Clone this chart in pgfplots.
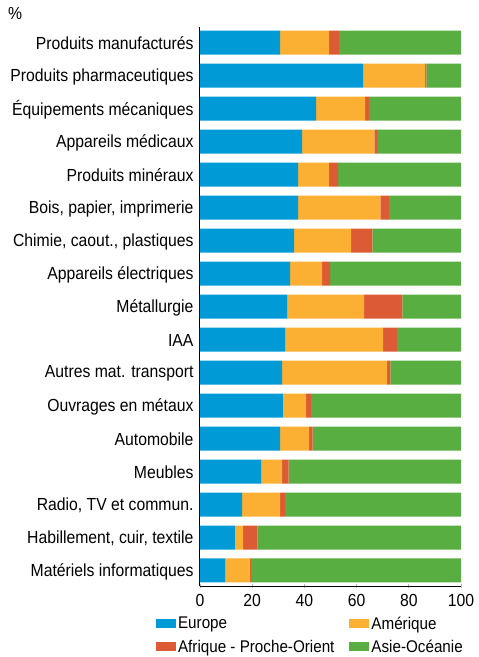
\documentclass[border=0pt]{standalone}
\usepackage{fontspec}
\setmainfont{Liberation Sans}[FakeStretch=0.9]
\usepackage{pgfplots}
\pgfplotsset{compat=1.18}
\definecolor{cEur}{RGB}{0,154,215}
\definecolor{cAme}{RGB}{251,176,52}
\definecolor{cAfr}{RGB}{220,91,53}
\definecolor{cAsi}{RGB}{88,174,64}
\newcommand{\fsz}{\fontsize{17.5}{20}\selectfont}
\newcommand{\lsz}{\fontsize{16.9}{19}\selectfont}
\begin{document}
\begin{tikzpicture}
\begin{axis}[
  scale only axis,
  width=261pt, height=559pt,
  xbar stacked,
  bar width=24pt,
  xmin=0, xmax=100,
  ymin=-0.47, ymax=16.47,
  y dir=reverse,
  axis x line=bottom, axis y line=left,
  axis line style={-, black, line width=1pt},
  xtick={0,20,40,60,80,100},
  ytick={0,...,16},
  yticklabels={Produits manufacturés,Produits pharmaceutiques,Équipements mécaniques,Appareils médicaux,Produits minéraux,{Bois, papier, imprimerie},{Chimie, caout., plastiques},Appareils électriques,Métallurgie,IAA,Autres mat. transport,Ouvrages en métaux,Automobile,Meubles,{Radio, TV et commun.},{Habillement, cuir, textile},Matériels informatiques},
  y tick style={draw=none},
  x tick style={gray!60, line width=0.8pt},
  major tick length=4pt,
  tick label style={font=\fsz},
  /pgf/number format/assume math mode=true,
  xticklabel style={yshift=-2.5pt},
  yticklabel style={xshift=-1pt, yshift=-1pt},
  legend columns=2,
  legend cell align=left,
  legend style={draw=none, fill=none, font=\lsz,
    at={(axis description cs:-0.169,-0.051)}, anchor=north west,
    /tikz/every even column/.append style={column sep=13pt},
    row sep=5pt, inner sep=0pt},
  legend image code/.code={\fill[#1, draw=none] (0pt,-4pt) rectangle (20pt,5pt);},
]
\addplot[fill=cEur, draw=none] coordinates {(30.7,0) (62.5,1) (44.5,2) (39.1,3) (37.6,4) (37.6,5) (36.1,6) (34.5,7) (33.4,8) (32.6,9) (31.5,10) (31.8,11) (30.7,12) (23.4,13) (16.1,14) (13.4,15) (9.6,16)};
\addplot[fill=cAme, draw=none] coordinates {(18.8,0) (23.8,1) (18.8,2) (27.7,3) (11.9,4) (31.5,5) (21.8,6) (12.3,7) (29.5,8) (37.6,9) (40.2,10) (8.9,11) (11.1,12) (8.1,13) (14.6,14) (3.1,15) (9.6,16)};
\addplot[fill=cAfr, draw=none] coordinates {(3.7,0) (0.4,1) (1.4,2) (1.1,3) (3.4,4) (3.3,5) (8.1,6) (3.1,7) (14.6,8) (5.2,9) (1.2,10) (1.8,11) (1.4,12) (2.5,13) (1.8,14) (5.6,15) (0.4,16)};
\addplot[fill=cAsi, draw=none] coordinates {(46.8,0) (13.3,1) (35.3,2) (32.1,3) (47.1,4) (27.6,5) (34.0,6) (50.1,7) (22.5,8) (24.6,9) (27.1,10) (57.5,11) (56.8,12) (66.0,13) (67.5,14) (77.9,15) (80.4,16)};
\legend{Europe,Amérique,Afrique - Proche-Orient,Asie-Océanie}
\coordinate (bl) at (axis description cs:0,0);
\coordinate (tr) at (axis description cs:1,1);
\coordinate (tl) at (axis description cs:0,1);
\end{axis}
\node[anchor=west, inner sep=0pt, font=\fsz] at ([shift={(-192pt,14pt)}]tl) {\%};
\pgfresetboundingbox
\path[use as bounding box] ([shift={(-200pt,-71pt)}]bl) rectangle ([shift={(18pt,27pt)}]tr);
\end{tikzpicture}
\end{document}
